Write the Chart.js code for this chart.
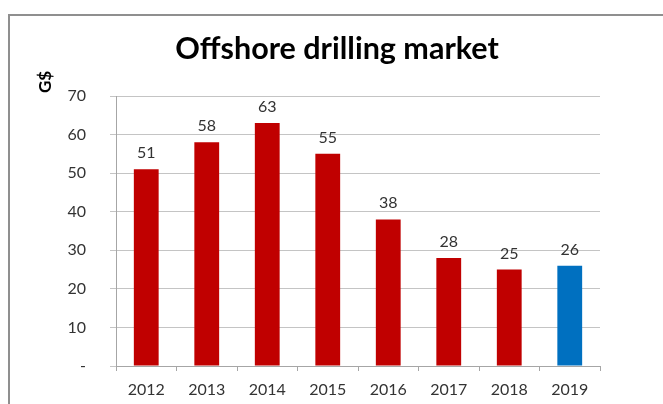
<!DOCTYPE html>
<html>
<head>
<meta charset="utf-8">
<script src="https://cdn.jsdelivr.net/npm/chart.js@4"></script>
<style>
  html, body { margin: 0; padding: 0; background: #fff; overflow: hidden; }
  #wrap { width: 663px; height: 404px; position: relative; }
</style>
</head>
<body>
<div id="wrap"><canvas id="grafico" width="663" height="404"></canvas></div>
<script>
// dados do gráfico
var anos = ["2012", "2013", "2014", "2015", "2016", "2017", "2018", "2019"];
var valores = [51, 58, 63, 55, 38, 28, 25, 26];
var cores = ["#C00000", "#C00000", "#C00000", "#C00000", "#C00000", "#C00000", "#C00000", "#0070C0"];
var titulo = "Offshore drilling market";
var unidade = "G$";

var fonte = "Lato, 'Open Sans', sans-serif";

// moldura, título, unidade e valores acima das barras
var extras = {
  id: "extras",
  beforeDraw: function (chart) {
    var ctx = chart.ctx;
    ctx.save();
    ctx.strokeStyle = "#8f8f8f";
    ctx.lineWidth = 2;
    ctx.strokeRect(9, 15, 700, 500);
    ctx.restore();
  },
  afterDatasetsDraw: function (chart) {
    var ctx = chart.ctx;

    // título centrado sobre o quadro
    ctx.save();
    ctx.font = "bold 30.5px " + fonte;
    ctx.fillStyle = "#000";
    ctx.textAlign = "center";
    ctx.textBaseline = "alphabetic";
    ctx.fillText(titulo, 337, 59);
    ctx.restore();

    // unidade do eixo y, girada
    ctx.save();
    ctx.translate(46, 82);
    ctx.rotate(-Math.PI / 2);
    ctx.font = "bold 17px " + fonte;
    ctx.fillStyle = "#000";
    ctx.textAlign = "center";
    ctx.textBaseline = "middle";
    ctx.fillText(unidade, 0, 0);
    ctx.restore();

    ctx.save();
    ctx.font = "16px " + fonte;
    ctx.fillStyle = "#333";
    ctx.textAlign = "center";
    ctx.textBaseline = "alphabetic";
    chart.getDatasetMeta(0).data.forEach(function (barra, i) {
      ctx.fillText(String(valores[i]), barra.x, barra.y - 11);
    });
    ctx.restore();
  }
};

new Chart(document.getElementById("grafico"), {
  type: "bar",
  data: {
    labels: anos,
    datasets: [{
      data: valores,
      backgroundColor: cores,
      borderWidth: 0,
      barPercentage: 0.41,
      categoryPercentage: 1.0
    }]
  },
  options: {
    responsive: false,
    animation: false,
    layout: { padding: { left: 0, right: 63, top: 96, bottom: 0 } },
    plugins: {
      legend: { display: false },
      tooltip: { enabled: false },
      title: { display: false }
    },
    scales: {
      x: {
        offset: true,
        grid: {
          offset: true,
          drawOnChartArea: false,
          drawTicks: true,
          tickLength: 5,
          color: "#a6a6a6"
        },
        border: { display: true, color: "#a6a6a6" },
        ticks: {
          color: "#333",
          font: { family: fonte, size: 16 },
          padding: 9,
          maxRotation: 0
        },
        afterFit: function (scale) { scale.height = 38; }
      },
      y: {
        min: 0,
        max: 70,
        grid: {
          color: "#c4c4c4",
          drawTicks: true,
          tickLength: 6
        },
        border: { display: true, color: "#a6a6a6" },
        ticks: {
          stepSize: 10,
          color: "#333",
          font: { family: fonte, size: 16 },
          padding: 24,
          callback: function (v) { return v === 0 ? "-" : v; }
        },
        afterFit: function (scale) { scale.width = 116; }
      }
    }
  },
  plugins: [extras]
});
</script>
</body>
</html>
